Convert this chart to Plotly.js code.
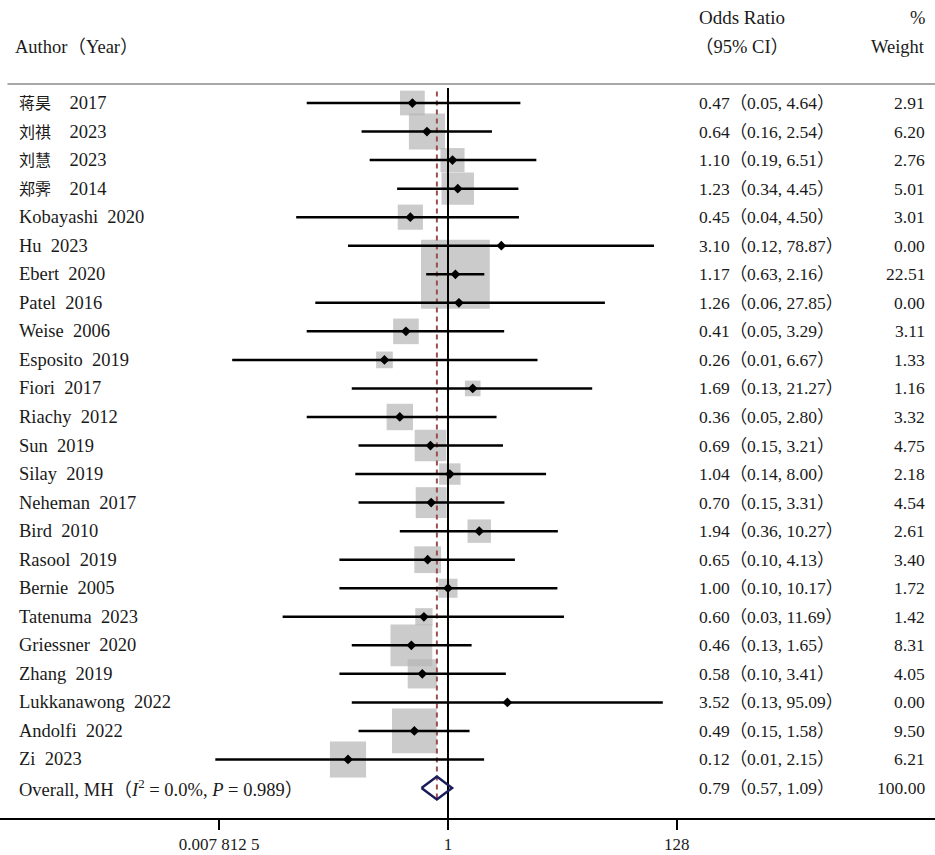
<!DOCTYPE html>
<html>
<head>
<meta charset="utf-8">
<script src="https://cdn.plot.ly/plotly-3.0.1.min.js"></script>
<style>html,body{margin:0;padding:0;background:#fff;}#chart{width:935px;height:855px;}</style>
</head>
<body>
<div id="chart"></div>
<script>
// ---- data ----
const authors = ['蒋昊','刘祺','刘慧','郑霁','Kobayashi','Hu','Ebert','Patel','Weise','Esposito','Fiori','Riachy','Sun','Silay','Neheman','Bird','Rasool','Bernie','Tatenuma','Griessner','Zhang','Lukkanawong','Andolfi','Zi'];
const years = [2017,2023,2023,2014,2020,2023,2020,2016,2006,2019,2017,2012,2019,2019,2017,2010,2019,2005,2023,2020,2019,2022,2022,2023];
const oddsRatio = [0.47,0.64,1.10,1.23,0.45,3.10,1.17,1.26,0.41,0.26,1.69,0.36,0.69,1.04,0.70,1.94,0.65,1.00,0.60,0.46,0.58,3.52,0.49,0.12];
const ciLower = [0.05,0.16,0.19,0.34,0.04,0.12,0.63,0.06,0.05,0.0103,0.13,0.05,0.15,0.14,0.15,0.36,0.10,0.10,0.03,0.13,0.10,0.13,0.15,0.0072];
const ciUpper = [4.64,2.54,6.51,4.45,4.50,78.87,2.16,27.85,3.29,6.67,21.27,2.80,3.21,8.00,3.31,10.27,4.13,10.17,11.69,1.65,3.41,95.09,1.58,2.15];
const weights = [2.91,6.20,2.76,5.01,3.01,0.00,22.51,0.00,3.11,1.33,1.16,3.32,4.75,2.18,4.54,2.61,3.40,1.72,1.42,8.31,4.05,0.00,9.50,6.21];
const overallOR = 0.79, overallLower = 0.57, overallUpper = 1.09, overallWeight = 100.00;
const overallLabel = 'Overall, MH（<i>I</i><sup>2</sup> = 0.0%, <i>P</i> = 0.989）';
const tickVals = [0.0078125, 1, 128];
const tickText = ['0.007 812 5', '1', '128'];

// ---- build ----
const n = authors.length;
const rows = authors.map((_, i) => i);
const overallRow = n;
const FONT = 'Liberation Serif, "Noto Sans CJK SC", serif';
const TXT = '#1a1a1a';

const traces = [];
// weight squares
traces.push({
  x: oddsRatio, y: rows, mode: 'markers', type: 'scatter',
  marker: {symbol: 'square', color: '#b5b5b5', size: weights.map(w => 14.5 * Math.sqrt(w)), line: {width: 0}},
  hoverinfo: 'skip', cliponaxis: false
});
// null line at 1
traces.push({x: [1, 1], y: [-0.53, overallRow + 1.05], mode: 'lines', type: 'scatter',
  line: {color: '#000', width: 2}, hoverinfo: 'skip'});
// overall dashed line
traces.push({x: [overallOR, overallOR], y: [-0.4, overallRow + 0.42], mode: 'lines', type: 'scatter',
  line: {color: '#9a5050', width: 2, dash: '5px,4px'}, hoverinfo: 'skip'});
// CI lines
const cx = [], cy = [];
for (let i = 0; i < n; i++) { cx.push(ciLower[i], ciUpper[i], null); cy.push(i, i, null); }
traces.push({x: cx, y: cy, mode: 'lines', type: 'scatter', line: {color: '#000', width: 2.5}, hoverinfo: 'skip'});
// point estimates
traces.push({x: oddsRatio, y: rows, mode: 'markers', type: 'scatter',
  marker: {symbol: 'diamond', color: '#000', size: 7.5}, hoverinfo: 'skip'});
// overall diamond
const hh = 0.4;
traces.push({
  x: [overallLower, overallOR, overallUpper, overallOR, overallLower],
  y: [overallRow, overallRow + hh, overallRow, overallRow - hh, overallRow],
  mode: 'lines', type: 'scatter', line: {color: '#1c1c5c', width: 2.5}, hoverinfo: 'skip'
});

const ann = [];
const xLab = 17 / 935, xOR = 697 / 935, xW = 927 / 935;
const addText = (x, y, text, anchor, size, yref) => ann.push({
  xref: 'paper', yref: yref || 'y', x: x, y: y, text: text, showarrow: false,
  xanchor: anchor, yanchor: 'middle', font: {family: FONT, size: size, color: TXT}
});
const isCJK = s => /[\u4e00-\u9fff]/.test(s);
for (let i = 0; i < n; i++) {
  const name = isCJK(authors[i])
    ? '<span style="font-size:16px">' + authors[i] + '</span>\u2003'
    : authors[i] + '\u2002';
  addText(xLab, i, name + years[i], 'left', 18.5);
  addText(xOR, i, oddsRatio[i].toFixed(2) + '（' + ciLower[i].toFixed(2) + ', ' + ciUpper[i].toFixed(2) + '）', 'left', 17.5);
  addText(xW, i, weights[i].toFixed(2), 'right', 17.5);
}
addText(xLab, overallRow, overallLabel, 'left', 18.5);
addText(xOR, overallRow, overallOR.toFixed(2) + '（' + overallLower.toFixed(2) + ', ' + overallUpper.toFixed(2) + '）', 'left', 17.5);
addText(xW, overallRow, overallWeight.toFixed(2), 'right', 17.5);
// headers
const py = px => (818 - px) / 734;
addText(13 / 935, py(47), 'Author（Year）', 'left', 18.5, 'paper');
addText(xOR, py(18), 'Odds Ratio', 'left', 19, 'paper');
addText(xOR - 4 / 935, py(47), '（95% CI）', 'left', 18.5, 'paper');
addText(xW, py(18), '%', 'right', 18.5, 'paper');
addText(xW, py(47), 'Weight', 'right', 18.5, 'paper');

const pxPerDecade = 108.6;
const layout = {
  width: 935, height: 855,
  margin: {l: 0, r: 0, t: 84, b: 37, pad: 0},
  paper_bgcolor: '#fff', plot_bgcolor: '#fff',
  showlegend: false,
  xaxis: {
    type: 'log', range: [-448 / pxPerDecade, (935 - 448) / pxPerDecade],
    showgrid: false, zeroline: false, showline: true, linecolor: '#000', linewidth: 2,
    ticks: 'outside', ticklen: 10, tickwidth: 1.5, tickcolor: '#000',
    tickvals: tickVals, ticktext: tickText,
    tickfont: {family: FONT, size: 17, color: TXT}, fixedrange: true
  },
  yaxis: {
    range: [overallRow + 1.05, -0.666], visible: false, showgrid: false, zeroline: false, fixedrange: true
  },
  shapes: [{type: 'line', xref: 'paper', yref: 'paper', x0: 0.008, x1: 1, y0: 1, y1: 1,
    line: {color: '#a8a8a8', width: 2}}],
  annotations: ann
};
Plotly.newPlot('chart', traces, layout, {staticPlot: true, displayModeBar: false});
</script>
</body>
</html>
